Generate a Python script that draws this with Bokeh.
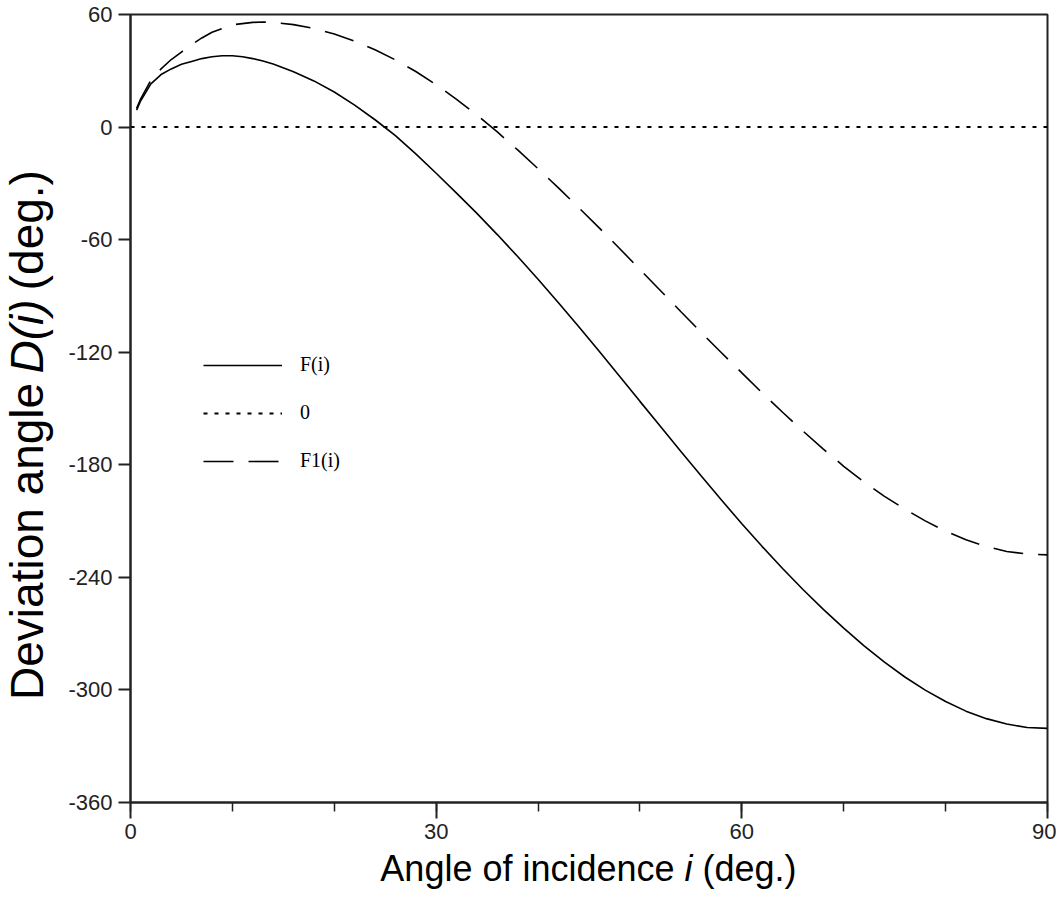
import math
from bokeh.plotting import figure
from bokeh.layouts import column, row
from bokeh.models import Range1d, SingleIntervalTicker, FixedTicker, Legend, LegendItem
from bokeh.core.properties import value
from bokeh.embed import file_html
from bokeh.resources import INLINE

# ---- data ----
inc_F = [0.6, 1, 2, 3, 4, 5, 6, 7, 8, 9, 10, 11, 12, 13, 14, 16, 18, 20, 22, 24,
         26, 28, 30, 32, 34, 36, 38, 40, 42, 44, 46, 48, 50, 52, 54, 56, 58, 60,
         62, 64, 66, 68, 70, 72, 74, 76, 78, 80, 82, 84, 86, 88, 90]
dev_F = [9, 14, 23, 28, 31, 33.5, 35, 36.5, 37.5, 38, 38, 37.5, 36.5, 35.2, 33.6,
         29.5, 24.6, 18.7, 11.7, 3.9, -4.6, -14.3, -24.6, -35.2, -46, -57.3, -69,
         -81.1, -93.6, -106.4, -119.5, -132.8, -146.2, -159.5, -172.8, -185.9,
         -198.8, -211.4, -223.6, -235.3, -246.5, -257.1, -267.1, -276.5, -285.2,
         -293.1, -300.1, -306.2, -311.3, -315.3, -318.2, -320.0, -320.5]

inc_F1 = [0.6, 1, 2, 3, 4, 5, 6, 7, 8, 10, 12, 13, 14, 16, 18, 20, 22, 24, 26, 28,
          30, 32, 34, 36, 38, 40, 42, 44, 46, 48, 50, 52, 54, 56, 58, 60, 62, 64,
          66, 68, 70, 72, 74, 76, 78, 80, 82, 84, 86, 88, 90]
dev_F1 = [10, 15, 25, 31, 36, 40, 44, 47.5, 50.5, 54.5, 55.8, 56, 55.8, 54.6, 52.6,
          49.6, 45.8, 41.2, 35.8, 29.6, 22.6, 14.8, 6.4, -2.6, -12.2, -22.2, -32.4,
          -43.0, -53.7, -64.7, -75.9, -87.1, -98.3, -109.4, -120.3, -131.0, -141.7,
          -152, -162, -171.6, -180.8, -189.2, -196.8, -203.6, -209.9, -215.4, -220.0,
          -223.6, -226.2, -227.6, -228]

zero_x = [0, 90]
zero_y = [0, 0]

y_ticks = [-360, -300, -240, -180, -120, -60, 0, 60]
y_tick_text = ["-360", "-300", "-240", "-180", "-120", "-60", "0", "60"]
legend_labels = ["F(i)", "0", "F1(i)"]

x_title = [("Angle of incidence", "normal"), ("i", "italic"), ("(deg.)", "normal")]
y_title = [("Deviation angle", "normal"), ("D(i)", "italic"), ("(deg.)", "normal")]

# ---- layout sizes ----
W_Y = 60          # width of the strip holding the y title
H_MAIN = 848
W_MAIN = 996
H_X = 53

# ---- main figure ----
p = figure(width=W_MAIN, height=H_MAIN, output_backend="svg", toolbar_location=None,
           x_range=Range1d(0, 90), y_range=Range1d(-360, 60),
           min_border_left=70, min_border_right=9, min_border_top=14,
           min_border_bottom=46)
p.grid.visible = False
p.background_fill_color = "white"
p.border_fill_color = "white"
p.outline_line_color = "#222222"
p.outline_line_width = 2

xa = p.xaxis[0]
xa.ticker = SingleIntervalTicker(interval=30, num_minor_ticks=3)
xa.major_tick_in = 0
xa.major_tick_out = 16
xa.minor_tick_in = 0
xa.minor_tick_out = 9
xa.axis_line_width = 2
xa.major_tick_line_width = 2
xa.minor_tick_line_width = 1.5
xa.major_label_standoff = 5

ya = p.yaxis[0]
ya.ticker = FixedTicker(ticks=y_ticks, minor_ticks=[])
ya.major_label_overrides = {t: s for t, s in zip(y_ticks, y_tick_text)}
ya.major_tick_in = 0
ya.major_tick_out = 12
ya.axis_line_width = 2
ya.major_tick_line_width = 2
ya.major_label_standoff = 6

for ax in (xa, ya):
    ax.axis_line_color = "#222222"
    ax.major_tick_line_color = "#222222"
    ax.minor_tick_line_color = "#222222"
    ax.major_label_text_font = "Liberation Sans"
    ax.major_label_text_font_size = "22px"
    ax.major_label_text_color = "#222222"

r_F = p.line(inc_F, dev_F, line_color="black", line_width=1.6)
r_0 = p.line(zero_x, zero_y, line_color="black", line_width=2, line_dash="4 7")
r_F1 = p.line(inc_F1, dev_F1, line_color="black", line_width=1.6, line_dash="30 15")

legend = Legend(items=[LegendItem(label=legend_labels[0], renderers=[r_F]),
                       LegendItem(label=legend_labels[1], renderers=[r_0]),
                       LegendItem(label=legend_labels[2], renderers=[r_F1])],
                location=(73, 330), orientation="vertical",
                glyph_width=79, glyph_height=20, label_height=20,
                label_standoff=18, spacing=25, padding=0, margin=0,
                border_line_alpha=0, background_fill_alpha=0,
                label_text_font="Liberation Serif", label_text_font_size="20px",
                label_text_color="black")
p.add_layout(legend, "center")

# ---- y-title strip (text reads bottom to top) ----
fs_y = 46
py_fig = figure(width=W_Y, height=H_MAIN, output_backend="svg", toolbar_location=None,
                x_range=Range1d(0, W_Y), y_range=Range1d(0, H_MAIN),
                x_axis_location=None, y_axis_location=None,
                min_border=0, outline_line_color=None)
py_fig.grid.visible = False
w1, w2, w3, sp = 6.892 * fs_y, 1.610 * fs_y, 2.612 * fs_y, 0.278 * fs_y
total = w1 + w2 + w3 + 2 * sp
start_page = 445 + total / 2                 # lower end of the title (page px)
j1 = start_page - w1                         # end of "Deviation angle"
c2 = j1 - sp - w2 / 2                        # centre of "D(i)"
s3 = j1 - sp - w2 - sp                       # start of "(deg.)"
anchors = [(j1, "right"), (c2, "center"), (s3, "left")]
for (txt, style), (pos, align) in zip(y_title, anchors):
    py_fig.text(x=[26], y=[H_MAIN - pos], text=[txt], angle=math.pi / 2,
                text_font=value("Liberation Sans"), text_font_style=value(style),
                text_font_size=value(f"{fs_y}px"), text_color="black",
                text_align=align, text_baseline="middle")

# ---- x-title strip ----
fs_x = 36
px_fig = figure(width=W_Y + W_MAIN, height=H_X, output_backend="svg",
                toolbar_location=None,
                x_range=Range1d(0, W_Y + W_MAIN), y_range=Range1d(0, H_X),
                x_axis_location=None, y_axis_location=None,
                min_border=0, outline_line_color=None)
px_fig.grid.visible = False
v1, v2, v3, spx = 8.171 * fs_x, 0.222 * fs_x, 2.612 * fs_x, 0.278 * fs_x
tot_x = v1 + v2 + v3 + 2 * spx
x_start = 588 - tot_x / 2
k1 = x_start + v1
anchors_x = [(k1, "right"), (k1 + spx + v2 / 2, "center"), (k1 + spx + v2 + spx, "left")]
x_mid = H_X - (868 - H_MAIN)
for (txt, style), (pos, align) in zip(x_title, anchors_x):
    px_fig.text(x=[pos], y=[x_mid], text=[txt],
                text_font=value("Liberation Sans"), text_font_style=value(style),
                text_font_size=value(f"{fs_x}px"), text_color="black",
                text_align=align, text_baseline="middle")

layout = column(row(py_fig, p), px_fig)
open("out.html", "w").write(file_html(layout, INLINE))
